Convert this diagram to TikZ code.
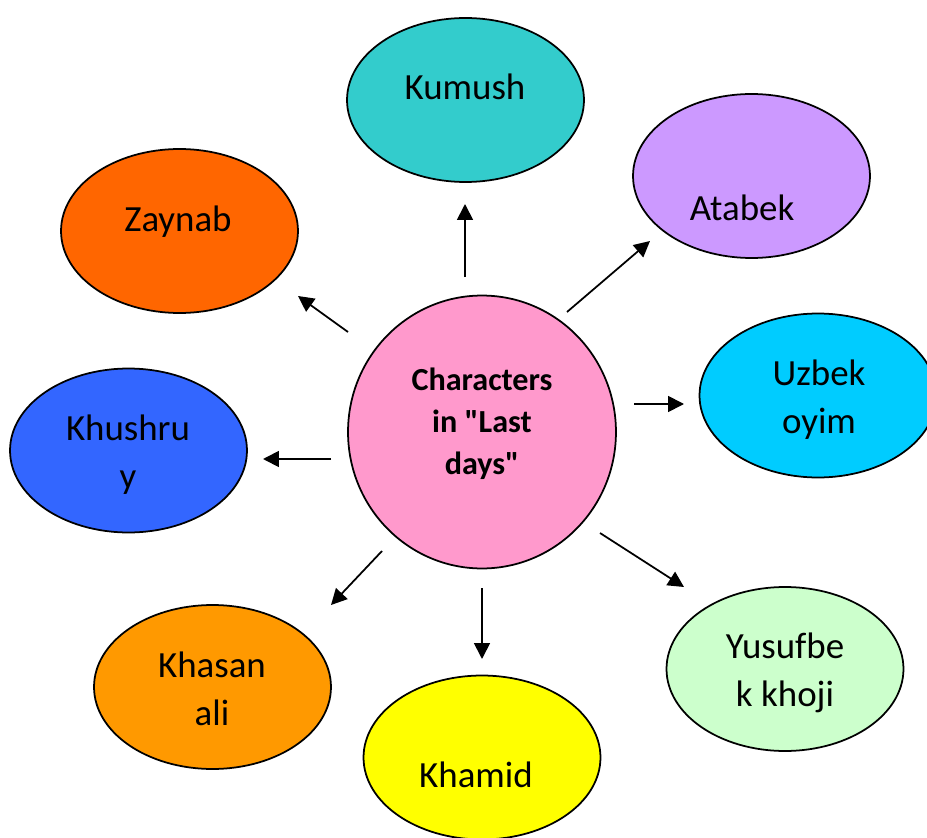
\documentclass[tikz,border=0pt]{standalone}
\usepackage{fontspec}
\setmainfont{Carlito}
\usetikzlibrary{arrows.meta,shapes.geometric}
\definecolor{hubpink}{HTML}{FF99CC}
\definecolor{kumushcyan}{HTML}{33CCCC}
\definecolor{zaynaborange}{HTML}{FF6600}
\definecolor{atabeklilac}{HTML}{CC99FF}
\definecolor{uzbekblue}{HTML}{00CCFF}
\definecolor{khushruyblue}{HTML}{3366FF}
\definecolor{khasanorange}{HTML}{FF9900}
\definecolor{khamidyellow}{HTML}{FFFF00}
\definecolor{yusufgreen}{HTML}{CCFFCC}

\begin{document}
\begin{tikzpicture}[x=0.02cm,y=-0.02cm,
    person/.style={draw=black,line width=1pt,ellipse,minimum width=4.74cm,minimum height=3.28cm,inner sep=0pt},
    persontext/.style={font=\fontsize{21}{27}\selectfont,align=center,inner sep=0pt},
    arr/.style={line width=1pt,-{Triangle[length=9pt,width=9pt]}}]
    \useasboundingbox (0,0) rectangle (927,838);
    \fill[white] (0,0) rectangle (927,838);
    \node[person,fill=hubpink,minimum width=5.36cm,minimum height=5.46cm] (hub) at (482,432) {};
    \node[person,fill=kumushcyan] (kumush) at (465.5,100) {};
    \node[person,fill=zaynaborange] (zaynab) at (179.5,231) {};
    \node[person,fill=atabeklilac] (atabek) at (751.5,176) {};
    \node[person,fill=uzbekblue] (uzbek) at (818,395.5) {};
    \node[person,fill=khushruyblue] (khushruy) at (128.5,450.5) {};
    \node[person,fill=khasanorange] (khasan) at (212.5,687) {};
    \node[person,fill=khamidyellow] (khamid) at (482,757.5) {};
    \node[person,fill=yusufgreen] (yusuf) at (785,669) {};
    \node[persontext,font=\fontsize{18.3}{23.9}\selectfont\bfseries,anchor=north] (hubtext) at (482,368) {Characters\\in \textquotedbl Last\\days\textquotedbl};
    \node[persontext,anchor=base] (kumushtext) at (465,100) {Kumush};
    \node[persontext,anchor=base] (zaynabtext) at (178,232) {Zaynab};
    \node[persontext,anchor=base] (atabektext) at (742,220) {Atabek};
    \node[persontext,anchor=north] (uzbektext) at (819,360) {Uzbek\\oyim};
    \node[persontext,anchor=north] (khushruytext) at (128,415) {Khushru\\y};
    \node[persontext,anchor=north] (khasantext) at (212,652) {Khasan\\ali};
    \node[persontext,anchor=base] (khamidtext) at (476,787) {Khamid};
    \node[persontext,anchor=north] (yusuftext) at (785,633) {Yusuf\kern0pt be\\k khoji};
    \coordinate (kumushfrom) at (465,277);
    \coordinate (kumushto) at (465,204);
    \coordinate (atabekfrom) at (567,312);
    \coordinate (atabekto) at (650,241);
    \coordinate (uzbekfrom) at (634,404);
    \coordinate (uzbekto) at (684,404);
    \coordinate (yusuffrom) at (600,533);
    \coordinate (yusufto) at (684,587);
    \coordinate (khamidfrom) at (482,588);
    \coordinate (khamidto) at (482,659);
    \coordinate (khasanfrom) at (382,551);
    \coordinate (khasanto) at (331,605);
    \coordinate (khushruyfrom) at (331,459);
    \coordinate (khushruyto) at (263,459);
    \coordinate (zaynabfrom) at (348,332);
    \coordinate (zaynabto) at (298,296);
    \draw[arr] (kumushfrom) -- (kumushto);
    \draw[arr] (atabekfrom) -- (atabekto);
    \draw[arr] (uzbekfrom) -- (uzbekto);
    \draw[arr] (yusuffrom) -- (yusufto);
    \draw[arr] (khamidfrom) -- (khamidto);
    \draw[arr] (khasanfrom) -- (khasanto);
    \draw[arr] (khushruyfrom) -- (khushruyto);
    \draw[arr] (zaynabfrom) -- (zaynabto);
\end{tikzpicture}
\end{document}
